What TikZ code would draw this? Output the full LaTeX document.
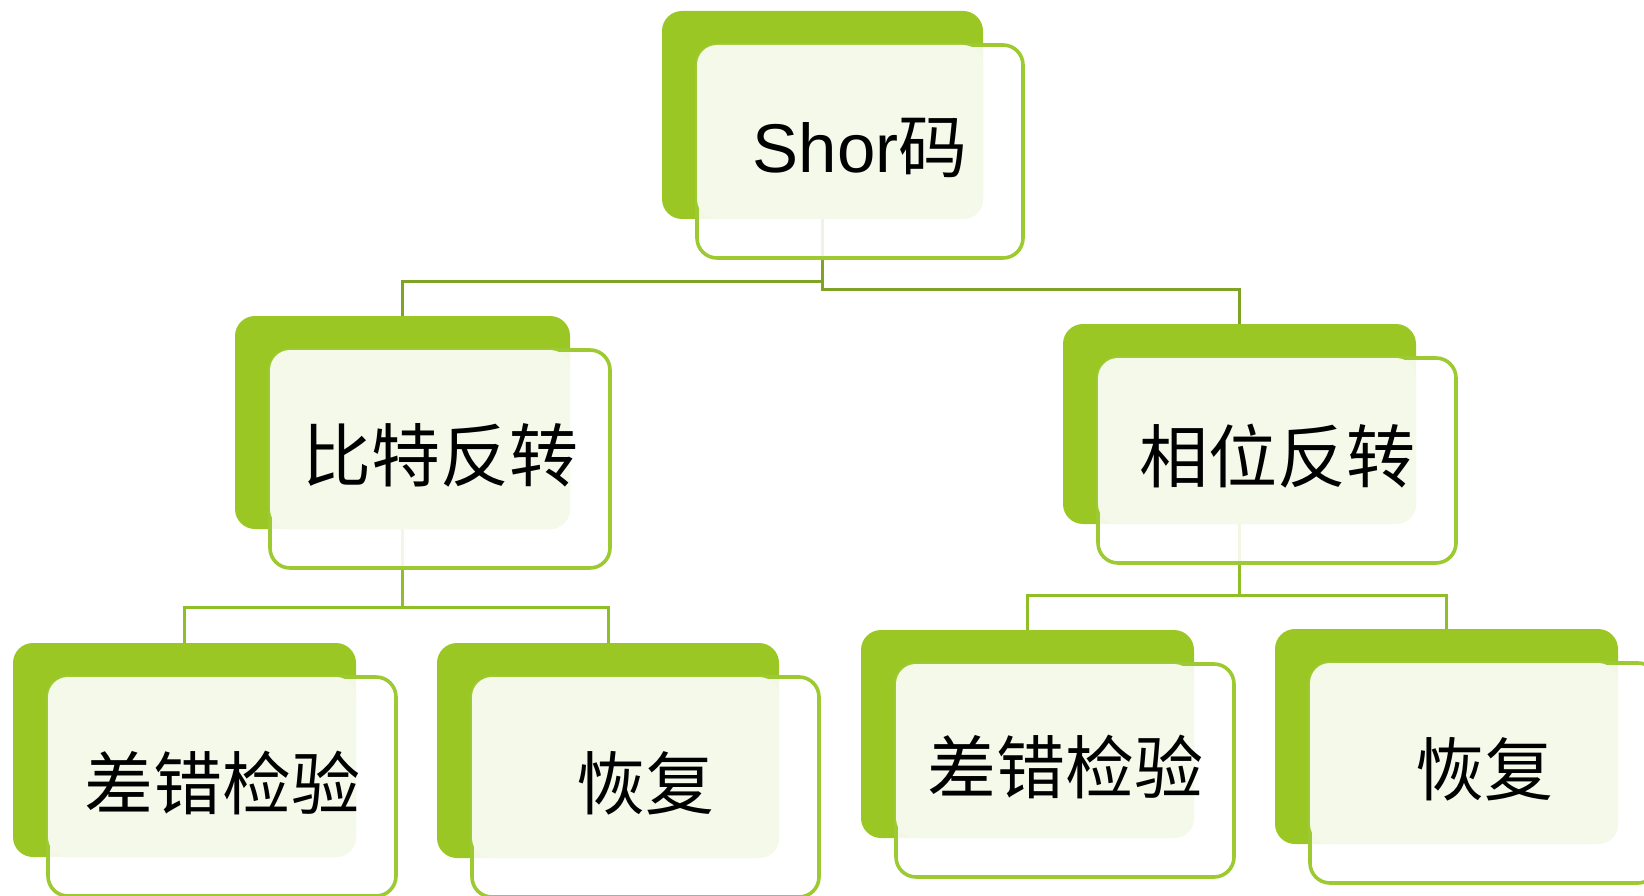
\documentclass[tikz,border=0pt]{standalone}
\usepackage{fontspec}
\setmainfont{Liberation Sans}
\newfontfamily\cjk{Noto Sans CJK SC}
\pgfdeclarelayer{bg}
\pgfsetlayers{bg,main}
\definecolor{gback}{HTML}{9BC725}
\definecolor{gline}{HTML}{9DC933}
\definecolor{pale}{HTML}{F5F9EA}
\definecolor{conntop}{HTML}{7FA324}
\definecolor{connlow}{HTML}{8FBE28}
\tikzset{
  backbox/.style={fill=gback, rounded corners=20pt, anchor=north west, inner sep=0pt, outer sep=0pt},
  outbox/.style={draw=gline, line width=3.6pt, fill=white, fill opacity=0.88, rounded corners=20pt, anchor=north west, inner sep=0pt, outer sep=0pt},
  palebox/.style={fill=pale, rounded corners=20pt, anchor=north west, inner sep=0pt, outer sep=0pt},
  lbl/.style={font=\fontsize{69}{74}\selectfont, text=black, inner sep=0pt},
  conna/.style={draw=conntop, line width=3pt},
  connb/.style={draw=connlow, line width=3pt},
}
\newcommand\mkunit[6]{%
  \pgfmathsetmacro\ux{#2+35}%
  \pgfmathsetmacro\uy{#3+34}%
  \pgfmathsetmacro\ow{#4+5}%
  \pgfmathsetmacro\oh{#5+5}%
  \pgfmathsetmacro\pw{#4-35}%
  \pgfmathsetmacro\ph{#5-34}%
  \node[backbox, minimum width=#4pt, minimum height=#5pt] (#1b) at (#2,#3) {};
  \node[outbox, minimum width=\ow pt, minimum height=\oh pt] (#1o) at (\ux,\uy) {};
  \node[palebox, minimum width=\pw pt, minimum height=\ph pt] (#1p) at (\ux,\uy) {};
  \node[lbl] (#1) at ([yshift=4pt]#1o.center) {#6};
}
\begin{document}
\begin{tikzpicture}[x=1pt,y=-1pt]
\useasboundingbox (0,0) rectangle (1644,896);
\mkunit{shor}{662}{11}{321}{208}{Shor{\cjk 码}}
\mkunit{bit}{235}{316}{335}{213}{\cjk 比特反转}
\mkunit{phase}{1063}{324}{353}{200}{\cjk 相位反转}
\mkunit{blA}{13}{643}{343}{214}{\cjk 差错检验}
\mkunit{blB}{437}{643}{342}{215}{\cjk 恢复}
\mkunit{brA}{861}{630}{333}{208}{\cjk 差错检验}
\mkunit{brB}{1275}{629}{343}{215}{\cjk 恢复}
\coordinate (hA) at (0,281);
\coordinate (hB) at (0,289);
\coordinate (hC) at (0,607);
\coordinate (hD) at (0,595);
\begin{pgfonlayer}{bg}
\draw[conna] (shorb.south) -- (shorb.south |- hA) -| (bitb.north);
\draw[conna] (shorb.south) -- (shorb.south |- hB) -| (phaseb.north);
\draw[connb] (bitb.south) -- (bitb.south |- hC) -| (blAb.north);
\draw[connb] (bitb.south) -- (bitb.south |- hC) -| (blBb.north);
\draw[connb] (phaseb.south) -- (phaseb.south |- hD) -| (brAb.north);
\draw[connb] (phaseb.south) -- (phaseb.south |- hD) -| (brBb.north);
\end{pgfonlayer}
\end{tikzpicture}
\end{document}
